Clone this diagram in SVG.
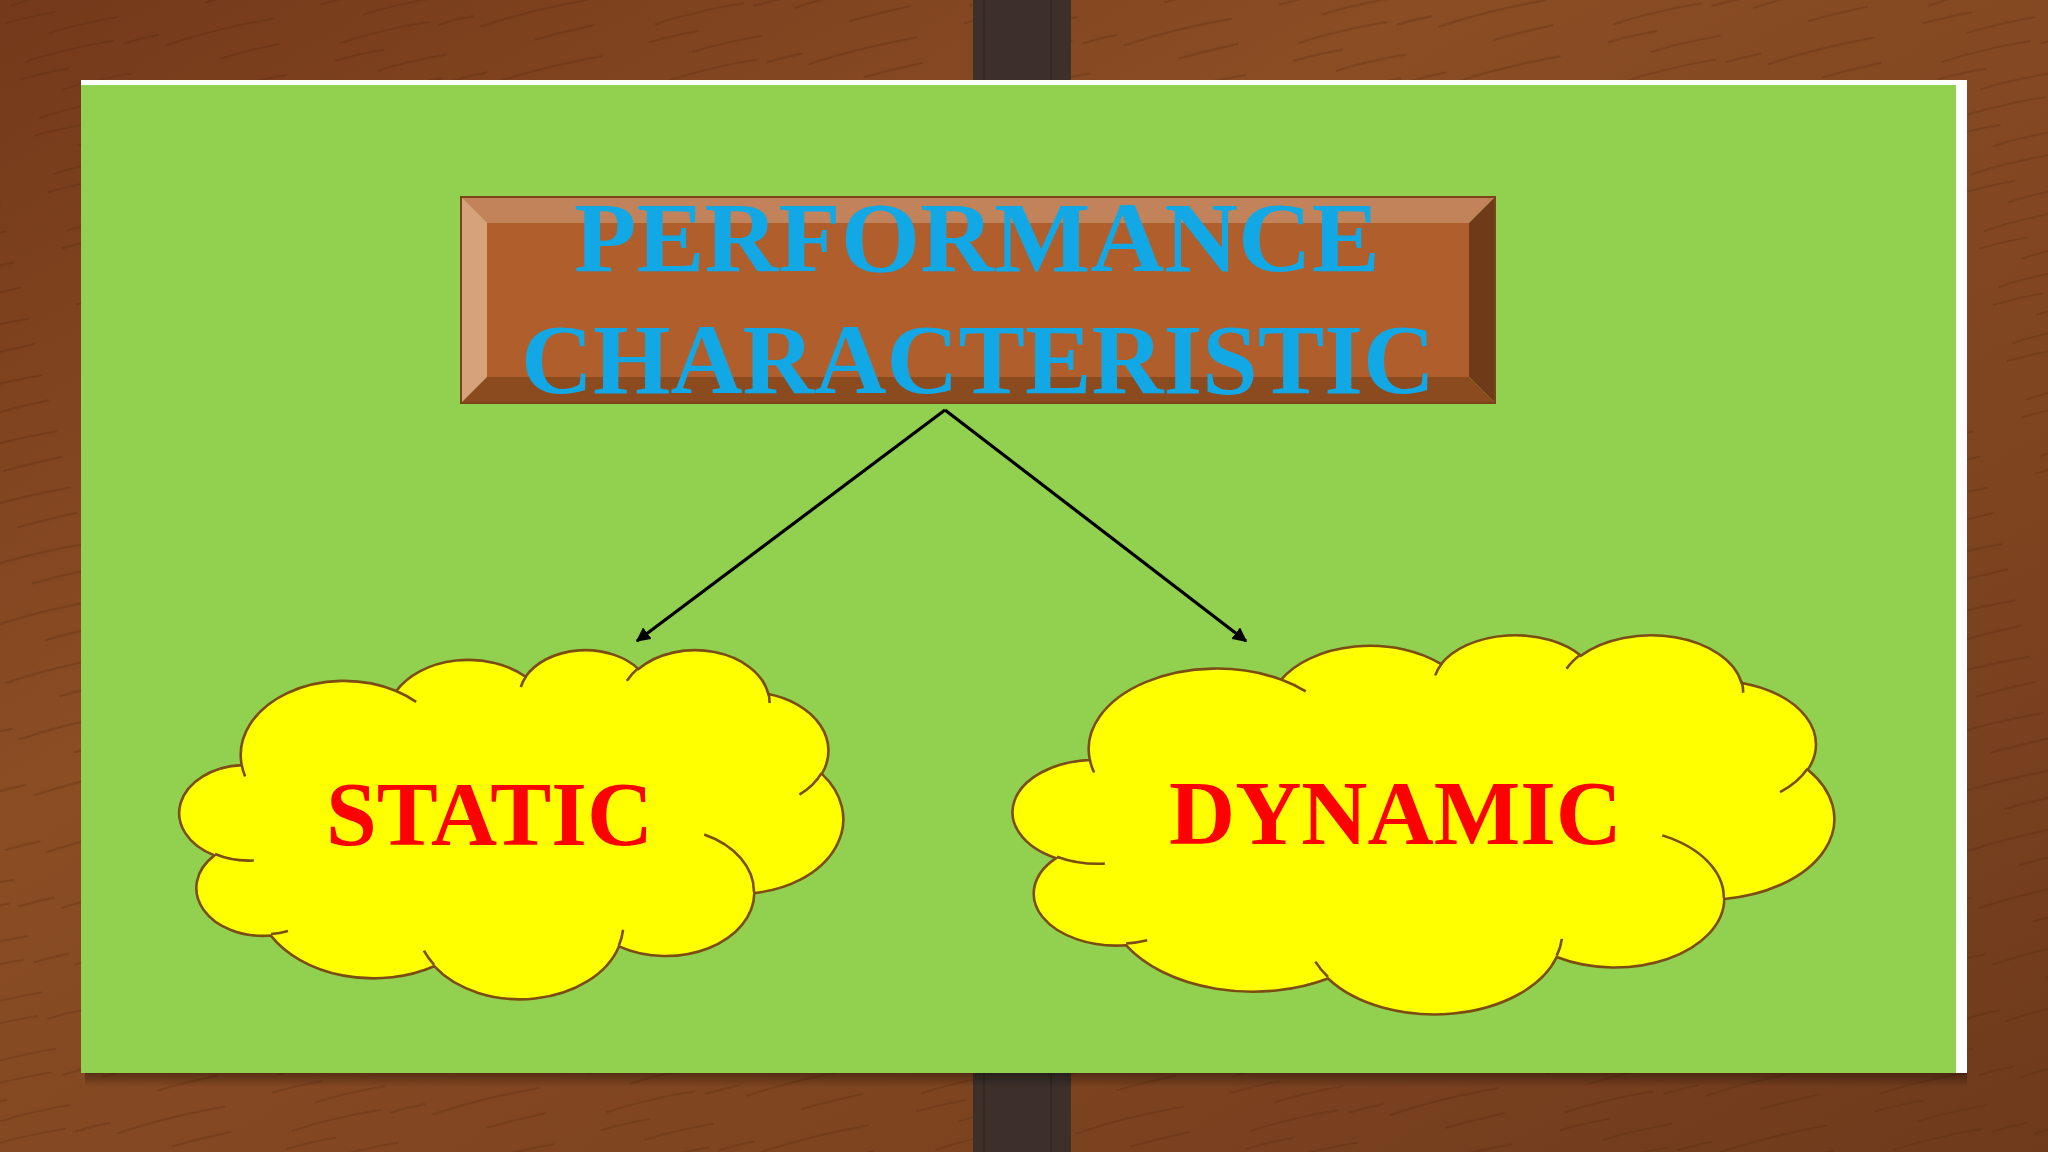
<svg xmlns="http://www.w3.org/2000/svg" width="2048" height="1152" viewBox="0 0 2048 1152">
<defs>
<linearGradient id="wood" x1="0" y1="0" x2="1" y2="1">
<stop offset="0" stop-color="#74391a"/>
<stop offset="0.35" stop-color="#8a4d24"/>
<stop offset="0.7" stop-color="#7e4420"/>
<stop offset="1" stop-color="#6e3a1c"/>
</linearGradient>
<pattern id="grain" width="310" height="58" patternUnits="userSpaceOnUse" patternTransform="rotate(-14)">
<path d="M10 8 q40 -3 90 1 M150 26 q50 -4 110 0 M40 44 q30 -2 70 1 M200 52 q20 -1 60 0 M0 24 q20 -1 50 1 M110 14 q20 -1 35 0" fill="none" stroke="#4e240c" stroke-width="1.8" stroke-linecap="round" opacity="0.28"/>
</pattern>
<linearGradient id="shadow" x1="0" y1="0" x2="0" y2="1">
<stop offset="0" stop-color="#000" stop-opacity="0.35"/>
<stop offset="1" stop-color="#000" stop-opacity="0"/>
</linearGradient>
<path id="cloudOuter" vector-effect="non-scaling-stroke" d="M3900 14370 A6753 9190 0 0 1 14004 5201 A5333 7267 0 0 1 22455 3432 A4365 5945 0 0 1 29833 2481 A4857 6595 0 0 1 38318 5577 A5333 7273 0 0 1 41818 15461 A6775 9220 0 0 1 37405 30205 A5785 7867 0 0 1 28556 36815 A6752 9215 0 0 1 16480 39265 A7720 10543 0 0 1 5806 35472 A4360 5918 0 0 1 2115 25549 A4345 5945 0 0 1 3900 14370 Z"/>
<path id="cloudInner" vector-effect="non-scaling-stroke" d="M4693 26177 A4345 5945 0 0 1 2160 25380 M6928 34899 A4360 5918 0 0 1 5819 35281 M16478 39090 A6752 9215 0 0 1 15810 37351 M28827 34751 A6752 9215 0 0 1 28560 36660 M34129 22954 A5785 7867 0 0 1 37381 30090 M41798 15354 A5333 7273 0 0 1 40350 18030 M38324 5426 A4857 6595 0 0 1 38400 6690 M29078 3952 A4857 6595 0 0 1 29820 2339 M22141 4720 A4365 5945 0 0 1 22500 3330 M14000 5192 A6753 9190 0 0 1 15301 6542 M4127 15789 A6753 9190 0 0 1 3900 14370"/>
<marker id="arrow" viewBox="0 0 10 10" refX="9" refY="5" markerWidth="4.5" markerHeight="4.5" orient="auto" markerUnits="strokeWidth">
<path d="M0 0 L10 5 L0 10 Z" fill="#000"/>
</marker>
</defs>
<style>
.cloud-fill{fill:#ffff00;stroke:#7b4d12;stroke-width:2.6}
.cloud-crease{fill:none;stroke:#7b4d12;stroke-width:2.6}
.title{font-family:"Liberation Serif","Times New Roman",serif;font-weight:bold;font-size:100px;fill:#12a8e6}
.label{font-family:"Liberation Serif","Times New Roman",serif;font-weight:bold;font-size:92px;fill:#ff0000}
.conn{stroke:#000;stroke-width:3.2;fill:none;marker-end:url(#arrow)}
</style>

<!-- background -->
<rect x="0" y="0" width="2048" height="1152" fill="url(#wood)"/>
<rect x="0" y="0" width="2048" height="1152" fill="url(#grain)"/>
<rect x="973" y="0" width="98" height="1152" fill="#3d302b"/>
<rect x="983" y="0" width="2" height="1152" fill="#2e231f" opacity="0.6"/>
<rect x="1050" y="0" width="2" height="1152" fill="#2e231f" opacity="0.6"/>

<!-- panel -->
<rect x="85" y="1073" width="1882" height="14" fill="url(#shadow)"/>
<rect x="81" y="80" width="1886" height="993" fill="#ffffff"/>
<rect x="81" y="85" width="1875" height="988" fill="#92d050"/>

<!-- title node -->
<g id="node-title">
<polygon points="461,197 1495,197 1469,223 487,223" fill="#c2835a"/>
<polygon points="461,197 487,223 487,377 461,403" fill="#d6a27c"/>
<polygon points="1495,197 1495,403 1469,377 1469,223" fill="#6e3a17"/>
<polygon points="461,403 487,377 1469,377 1495,403" fill="#8c4b1f"/>
<rect x="487" y="223" width="982" height="154" fill="#b05e2b"/>
<rect x="461" y="197" width="1034" height="206" fill="none" stroke="#7a4318" stroke-width="2"/>
<text class="title" x="977" y="271" text-anchor="middle" textLength="806" lengthAdjust="spacingAndGlyphs">PERFORMANCE</text>
<text class="title" x="978" y="393" text-anchor="middle" textLength="914" lengthAdjust="spacingAndGlyphs">CHARACTERISTIC</text>
</g>

<!-- connectors -->
<g id="connectors">
<line class="conn" x1="945" y1="410" x2="637" y2="641"/>
<line class="conn" x1="945" y1="410" x2="1246" y2="641"/>
</g>

<!-- static node -->
<g id="node-static">
<g transform="translate(182 649) scale(0.015301 0.0080787)">
<use href="#cloudOuter" class="cloud-fill"/>
<use href="#cloudInner" class="cloud-crease"/>
</g>
<text class="label" x="489.5" y="845" text-anchor="middle" textLength="327" lengthAdjust="spacingAndGlyphs">STATIC</text>
</g>

<!-- dynamic node -->
<g id="node-dynamic">
<g transform="translate(1016 634) scale(0.018935 0.0087731)">
<use href="#cloudOuter" class="cloud-fill"/>
<use href="#cloudInner" class="cloud-crease"/>
</g>
<text class="label" x="1395.5" y="844" text-anchor="middle" textLength="453" lengthAdjust="spacingAndGlyphs">DYNAMIC</text>
</g>
</svg>
